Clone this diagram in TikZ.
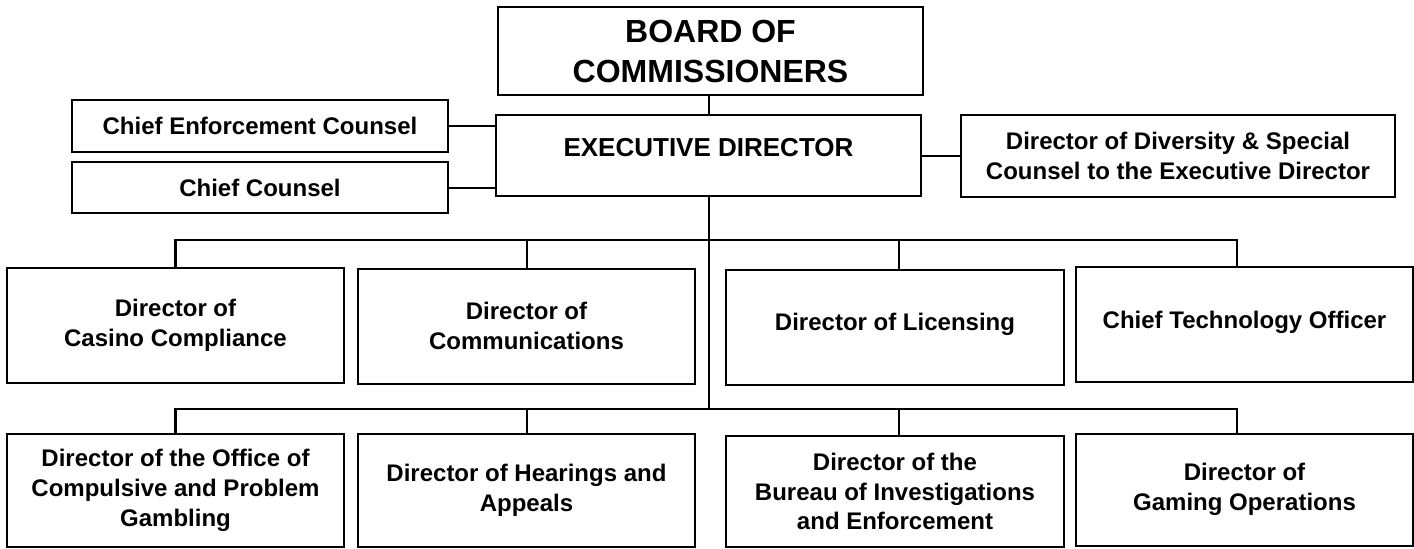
\documentclass[tikz,border=0pt]{standalone}
\usepackage{fontspec}
\setmainfont{Liberation Sans}
\usetikzlibrary{positioning}

\begin{document}
\begin{tikzpicture}[
    x=0.5pt, y=-0.5pt,
    box/.style={rectangle, draw=black, fill=white, line width=1pt, align=center, inner sep=2pt, font=\fontsize{12}{14.9}\selectfont\bfseries},
    topbox/.style={box, minimum width=212.5pt, font=\fontsize{16}{20}\selectfont\bfseries},
    sidebox/.style={box, minimum width=188pt},
    unitbox/.style={box, minimum width=168.5pt, minimum height=57.5pt},
    lowbox/.style={box, minimum width=168.5pt, minimum height=56.5pt},
    raised/.style={text height=8.6pt, text depth=5pt},
    link/.style={line width=1pt, draw=black},
    bus/.style={line width=1.3pt, draw=black}
]
    \useasboundingbox (0,0) rectangle (1414,548);

    \node [topbox, minimum height=44pt] (board) at (710.5,51) {BOARD OF\\COMMISSIONERS};
    \node [topbox, minimum height=40.5pt, font=\fontsize{13}{15.6}\selectfont\bfseries, text height=9.5pt, text depth=8.2pt] (exec) at (708.5,155.5) {EXECUTIVE DIRECTOR};
    \node [sidebox, minimum height=26pt] (enf) at (260,126) {Chief Enforcement Counsel};
    \node [sidebox, minimum height=25.5pt] (counsel) at (260,187.5) {Chief Counsel};
    \node [box, minimum width=217pt, minimum height=41pt] (div) at (1178,156) {Director of Diversity \& Special\\Counsel to the Executive Director};

    \node [unitbox] (casino) at (175.5,325.5) {Director of\\Casino Compliance};
    \node [unitbox] (comm) at (526.5,326) {Director of\\Communications};
    \node [unitbox, minimum width=169pt, raised] (lic) at (895,327) {Director of Licensing};
    \node [unitbox, raised] (cto) at (1244.5,324.5) {Chief Technology Officer};

    \node [lowbox] (office) at (175.5,490.5) {Director of the Office of\\Compulsive and Problem\\Gambling};
    \node [lowbox] (hear) at (526.5,490.5) {Director of Hearings and\\Appeals};
    \node [lowbox, minimum width=169pt, minimum height=55.5pt] (bie) at (895,491.5) {Director of the\\Bureau of Investigations\\and Enforcement};
    \node [lowbox, minimum height=56pt] (gaming) at (1244.5,489.5) {Director of\\Gaming Operations};

    \coordinate (bus1) at (709,240);
    \coordinate (bus2) at (709,409);

    \draw [link, line width=0.8pt] (board.south -| bus1) -- (exec.north -| bus1);
    \draw [link] (enf.east) -- (enf.east -| exec.west);
    \draw [link] (counsel.east) -- (counsel.east -| exec.west);
    \draw [link] (exec.east |- div.west) -- (div.west);
    \draw [link] (exec.south -| bus1) -- (bus2);

    \draw [bus] (casino.north) |- (bus1) -| ([xshift=-3.75pt]cto.north);
    \draw [link] (comm.north) -- (comm.north |- bus1);
    \draw [link] ([xshift=2pt]lic.north) -- ([xshift=2pt]lic.north |- bus1);

    \draw [bus] (office.north) |- (bus2) -| ([xshift=-3.75pt]gaming.north);
    \draw [link] (hear.north) -- (hear.north |- bus2);
    \draw [link] ([xshift=2pt]bie.north) -- ([xshift=2pt]bie.north |- bus2);
\end{tikzpicture}
\end{document}
